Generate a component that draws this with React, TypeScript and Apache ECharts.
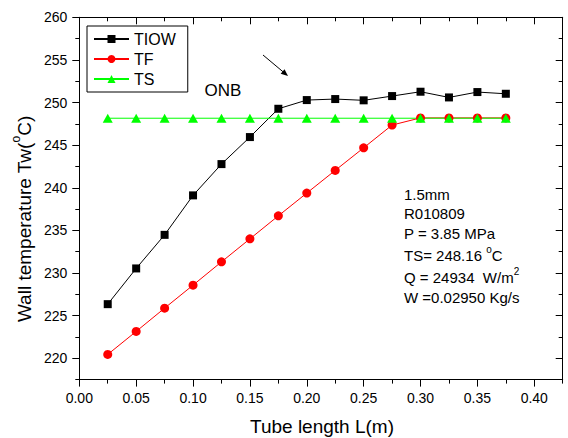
import React, { useEffect, useRef } from 'react';
import * as echarts from 'echarts';

// ---- data ----
const lengths = [0.025, 0.05, 0.075, 0.1, 0.125, 0.15, 0.175, 0.2, 0.225, 0.25, 0.275, 0.3, 0.325, 0.35, 0.375];
const tiow = [226.35, 230.54, 234.48, 239.11, 242.78, 245.95, 249.27, 250.29, 250.41, 250.26, 250.76, 251.27, 250.6, 251.23, 251.03];
const tf = [220.45, 223.15, 225.88, 228.58, 231.31, 234.01, 236.71, 239.38, 242.04, 244.69, 247.36, 248.2, 248.2, 248.2, 248.2];
const tsVals = [248.16, 248.16, 248.16, 248.16, 248.16, 248.16, 248.16, 248.16, 248.16, 248.16, 248.16, 248.16, 248.16, 248.16, 248.16];
const seriesNames = ['TIOW', 'TF', 'TS'];
const infoLines = ['1.5mm', 'R010809', 'P = 3.85 MPa'];

// axis ranges
const X_MIN = 0, X_MAX = 0.425, X_MAJOR_MAX = 0.4, X_MAJOR = 0.05, X_MINOR = 0.025;
const Y_MIN = 217.5, Y_MAX = 260, Y_MAJOR_MIN = 220, Y_MAJOR = 5, Y_MINOR = 2.5;

const FONT = '"Liberation Sans", Arial, Helvetica, sans-serif';

export default function App() {
  const ref = useRef<HTMLDivElement>(null);
  useEffect(() => {
    document.body.style.margin = '0';
    if (!ref.current) return;
    const chart = echarts.init(ref.current, undefined, { renderer: 'svg' });

    const L = 79.3, R = 562.7, T = 17.3, B = 379.6;
    const W = R - L, H = B - T;
    const W2 = ((X_MAJOR_MAX - X_MIN) / (X_MAX - X_MIN)) * W;
    const H2 = ((Y_MAX - Y_MAJOR_MIN) / (Y_MAX - Y_MIN)) * H;

    const black = '#000';
    const lineStyle = { color: black, width: 1 };
    const tickLabel = { color: black, fontSize: 14, fontFamily: FONT };

    const minorX = (position: string, inside: boolean) => ({
      type: 'value', gridIndex: 0, position, min: X_MIN, max: X_MAX, interval: X_MINOR,
      axisLine: { show: true, onZero: false, lineStyle },
      axisTick: { show: true, inside, length: 4, lineStyle },
      axisLabel: { show: false }, splitLine: { show: false },
    });
    const minorY = (position: string, inside: boolean) => ({
      type: 'value', gridIndex: 0, position, min: Y_MIN, max: Y_MAX, interval: Y_MINOR,
      axisLine: { show: true, onZero: false, lineStyle },
      axisTick: { show: true, inside, length: 4, lineStyle },
      axisLabel: { show: false }, splitLine: { show: false },
    });

    const sup = { fontSize: 10, lineHeight: 10, fontFamily: FONT, fill: black, verticalAlign: 'top' };

    const option: any = {
      animation: false,
      backgroundColor: '#fff',
      grid: [
        { left: L, top: T, width: W, height: H },
        { left: L, top: T, width: W2, height: H2 },
      ],
      xAxis: [
        minorX('bottom', false),
        minorX('top', true),
        {
          type: 'value', gridIndex: 1, position: 'bottom', offset: H - H2,
          min: X_MIN, max: X_MAJOR_MAX, interval: X_MAJOR,
          axisLine: { show: false, onZero: false },
          axisTick: { show: true, inside: false, length: 7, lineStyle },
          axisLabel: { ...tickLabel, margin: 11, formatter: (v: number) => v.toFixed(2) },
          splitLine: { show: false },
        },
        {
          type: 'value', gridIndex: 1, position: 'top',
          min: X_MIN, max: X_MAJOR_MAX, interval: X_MAJOR,
          axisLine: { show: false, onZero: false },
          axisTick: { show: true, inside: true, length: 7, lineStyle },
          axisLabel: { show: false }, splitLine: { show: false },
        },
      ],
      yAxis: [
        minorY('left', false),
        minorY('right', true),
        {
          type: 'value', gridIndex: 1, position: 'left',
          min: Y_MAJOR_MIN, max: Y_MAX, interval: Y_MAJOR,
          axisLine: { show: false, onZero: false },
          axisTick: { show: true, inside: false, length: 7, lineStyle },
          axisLabel: { ...tickLabel, margin: 12 },
          splitLine: { show: false },
        },
        {
          type: 'value', gridIndex: 1, position: 'right', offset: W - W2,
          min: Y_MAJOR_MIN, max: Y_MAX, interval: Y_MAJOR,
          axisLine: { show: false, onZero: false },
          axisTick: { show: true, inside: true, length: 7, lineStyle },
          axisLabel: { show: false }, splitLine: { show: false },
        },
      ],
      legend: {
        data: seriesNames,
        orient: 'vertical',
        left: 87, top: 26,
        padding: [5, 12, 5, 6],
        itemGap: 4,
        itemWidth: 35, itemHeight: 10,
        backgroundColor: '#fff',
        borderColor: black, borderWidth: 1, borderRadius: 0,
        textStyle: { color: black, fontSize: 16, fontFamily: FONT, lineHeight: 16 },
      },
      series: [
        {
          name: seriesNames[0], type: 'line', xAxisIndex: 0, yAxisIndex: 0,
          data: lengths.map((x, i) => [x, tiow[i]]),
          symbol: 'rect', symbolSize: 8,
          lineStyle: { color: black, width: 1 }, itemStyle: { color: black },
        },
        {
          name: seriesNames[1], type: 'line', xAxisIndex: 0, yAxisIndex: 0,
          data: lengths.map((x, i) => [x, tf[i]]),
          symbol: 'circle', symbolSize: 9,
          lineStyle: { color: '#ff0000', width: 1 }, itemStyle: { color: '#ff0000' },
        },
        {
          name: seriesNames[2], type: 'line', xAxisIndex: 0, yAxisIndex: 0,
          data: lengths.map((x, i) => [x, tsVals[i]]),
          symbol: 'triangle', symbolSize: [10, 9],
          lineStyle: { color: '#00ff00', width: 1 }, itemStyle: { color: '#00ff00' },
        },
      ],
      graphic: [
        // axis titles
        {
          type: 'text', x: 322, y: 426,
          style: { text: 'Tube length L(m)', fontSize: 19, fontFamily: FONT, fill: black, textAlign: 'center', textVerticalAlign: 'middle' },
        },
        {
          type: 'text', x: 24, y: 219, rotation: Math.PI / 2,
          style: {
            text: 'Wall temperature Tw({s|o}C)', fontSize: 19, lineHeight: 28, fontFamily: FONT, fill: black,
            textAlign: 'center', textVerticalAlign: 'middle',
            rich: { s: { ...sup, fontSize: 12, lineHeight: 12 } },
          },
        },
        // ONB label and arrow
        {
          type: 'text', x: 223, y: 90,
          style: { text: 'ONB', fontSize: 17, fontFamily: FONT, fill: black, textAlign: 'center', textVerticalAlign: 'middle' },
        },
        { type: 'line', shape: { x1: 263, y1: 55, x2: 284, y2: 72.6 }, style: { stroke: black, lineWidth: 1 } },
        { type: 'polygon', shape: { points: [[288, 76], [280.7, 73.8], [284.5, 69.2]] }, style: { fill: black } },
        // info block
        ...infoLines.map((t, i) => ({
          type: 'text', x: 404, y: [194.5, 213, 233][i],
          style: { text: t, fontSize: 15, fontFamily: FONT, fill: black, textAlign: 'left', textVerticalAlign: 'middle' },
        })),
        {
          type: 'text', x: 404, y: 255.5,
          style: {
            text: 'TS= 248.16 {s|o}C', fontSize: 15, lineHeight: 22, fontFamily: FONT, fill: black,
            textAlign: 'left', textVerticalAlign: 'middle', rich: { s: sup },
          },
        },
        {
          type: 'text', x: 404, y: 277.5,
          style: {
            text: 'Q = 24934  W/m{s|2}', fontSize: 15, lineHeight: 22, fontFamily: FONT, fill: black,
            textAlign: 'left', textVerticalAlign: 'middle', rich: { s: sup },
          },
        },
        {
          type: 'text', x: 404, y: 297,
          style: { text: 'W =0.02950 Kg/s', fontSize: 15, fontFamily: FONT, fill: black, textAlign: 'left', textVerticalAlign: 'middle' },
        },
      ],
    };
    chart.setOption(option);
    return () => chart.dispose();
  }, []);
  return <div ref={ref} style={{ width: 568, height: 438 }} />;
}
